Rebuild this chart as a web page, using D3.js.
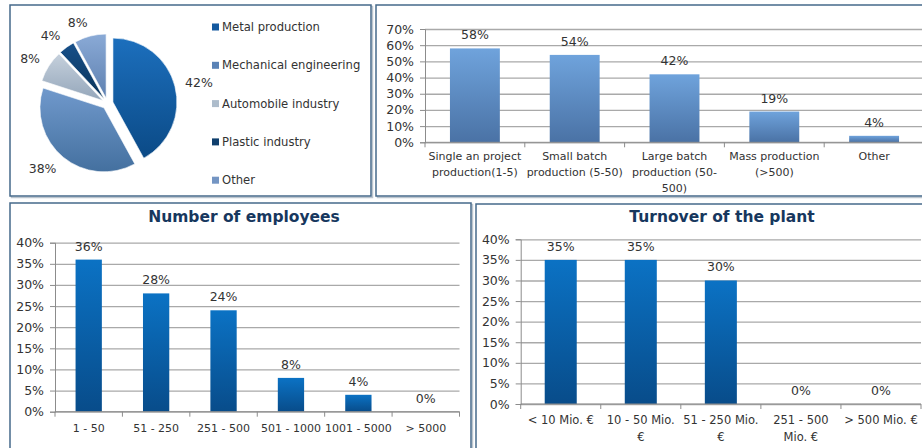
<!DOCTYPE html>
<html>
<head>
<meta charset="utf-8">
<script src="https://cdn.jsdelivr.net/npm/d3@7"></script>
<style>
  body { margin: 0; background: #fff; }
  text { font-family: "DejaVu Sans", sans-serif; fill: #333; }
</style>
</head>
<body>
<svg id="chart" width="922" height="448"></svg>
<script>
// ---- data ----
const sectorNames = ["Metal production", "Mechanical engineering", "Automobile industry", "Plastic industry", "Other"];
const sectorValues = [42, 38, 8, 4, 8];

const prodCategories = ["Single an project\nproduction(1-5)", "Small batch\nproduction (5-50)", "Large batch\nproduction (50-\n500)", "Mass production\n(>500)", "Other"];
const prodValues = [58, 54, 42, 19, 4];
const prodTicks = [0, 10, 20, 30, 40, 50, 60, 70];

const empCategories = ["1 - 50", "51 - 250", "251 - 500", "501 - 1000", "1001 - 5000", "> 5000"];
const empValues = [36, 28, 24, 8, 4, 0];
const empTicks = [0, 5, 10, 15, 20, 25, 30, 35, 40];

const turnCategories = ["< 10 Mio. €", "10 - 50 Mio.\n€", "51 - 250 Mio.\n€", "251 - 500\nMio. €", "> 500 Mio. €"];
const turnValues = [35, 35, 30, 0, 0];
const turnTicks = [0, 5, 10, 15, 20, 25, 30, 35, 40];

const svg = d3.select("#chart");
const defs = svg.append("defs");

function vGrad(id, top, bottom) {
    const g = defs.append("linearGradient").attr("id", id)
        .attr("x1", 0).attr("y1", 0).attr("x2", 0).attr("y2", 1);
    g.append("stop").attr("offset", "0%").attr("stop-color", top);
    g.append("stop").attr("offset", "100%").attr("stop-color", bottom);
}

// panel frames
function frame(x, y, w, h) {
    svg.append("rect").attr("x", x + 1.5).attr("y", y + 1.5).attr("width", w).attr("height", h)
        .attr("fill", "none").attr("stroke", "#bcc5ce").attr("stroke-width", 1.5);
    svg.append("rect").attr("x", x).attr("y", y).attr("width", w).attr("height", h)
        .attr("fill", "#fff").attr("stroke", "#46698a").attr("stroke-width", 1.5);
}
frame(10, 5, 361, 191);
frame(376, 5, 560, 191);
frame(10, 203, 461, 260);
frame(476, 204, 460, 260);

// ---- pie ----
const pieColors = [
    ["#1c6fbd", "#0b4a86", "#14599f"],
    ["#7099cc", "#44709f", "#5a83b6"],
    ["#c5d0dc", "#94a6ba", "#adbccb"],
    ["#17508a", "#0a3358", "#0f3f6d"],
    ["#8aaad6", "#5e80b0", "#7495c3"]
];
pieColors.forEach((c, i) => vGrad("pie" + i, c[0], c[1]));

const cx = 107.5, cy = 103.5, radius = 64, explode = 5.6;
const pie = d3.pie().sort(null).value(d => d);
const arc = d3.arc().innerRadius(0).outerRadius(radius);
const arcs = pie(sectorValues);

const pieG = svg.append("g").attr("transform", `translate(${cx},${cy})`);
pieG.selectAll("path")
    .data(arcs)
    .enter()
    .append("path")
    .attr("d", arc)
    .attr("transform", d => {
        const a = (d.startAngle + d.endAngle) / 2;
        return `translate(${Math.sin(a) * explode},${-Math.cos(a) * explode})`;
    })
    .attr("fill", (d, i) => `url(#pie${i})`)
    .attr("stroke", "#fff")
    .attr("stroke-width", 0.6);

pieG.selectAll(".pie-label")
    .data(arcs)
    .enter()
    .append("text")
    .attr("class", "pie-label")
    .attr("x", d => Math.sin((d.startAngle + d.endAngle) / 2) * 80)
    .attr("y", d => {
        const a = (d.startAngle + d.endAngle) / 2;
        return -Math.cos(a) * 80 - Math.cos(a) * 4;
    })
    .attr("dy", "0.35em")
    .attr("text-anchor", d => Math.sin((d.startAngle + d.endAngle) / 2) >= 0 ? "start" : "end")
    .style("font-size", "12.5px")
    .text(d => d.value + "%");

// legend
const legend = svg.append("g").attr("transform", "translate(212, 27)");
sectorNames.forEach((name, i) => {
    legend.append("rect")
        .attr("x", 0).attr("y", i * 38.3 - 3.5)
        .attr("width", 7).attr("height", 7)
        .attr("fill", pieColors[i][2]);
    legend.append("text")
        .attr("x", 10).attr("y", i * 38.3)
        .attr("dy", "0.35em")
        .style("font-size", "11.6px")
        .text(name);
});

// ---- bar panels ----
vGrad("barLight", "#6fa3dc", "#4a72a5");
vGrad("barDark", "#0b72c4", "#084c8a");

function barPanel(o) {
    const g = svg.append("g");

    const x = d3.scaleBand()
        .domain(o.cats)
        .range([o.left, o.right])
        .paddingInner(1 - o.barFrac)
        .paddingOuter((1 - o.barFrac) / 2);

    const y = d3.scaleLinear()
        .domain([0, d3.max(o.ticks)])
        .range([o.y0, o.yMax]);

    // gridlines
    g.append("g")
        .attr("transform", `translate(${o.left},0)`)
        .call(d3.axisLeft(y).tickValues(o.ticks).tickSize(-(o.right - o.left)).tickFormat(""))
        .call(s => s.select(".domain").remove())
        .call(s => s.selectAll("line").attr("stroke", "#a9a9a9").attr("stroke-width", 1.3));

    // y axis
    g.append("g")
        .attr("transform", `translate(${o.left},0)`)
        .call(d3.axisLeft(y).tickValues(o.ticks).tickSize(5).tickPadding(6).tickFormat(d => d + "%"))
        .call(s => s.select(".domain").attr("stroke", "#8c8c8c"))
        .call(s => s.selectAll("line").attr("stroke", "#8c8c8c"))
        .call(s => s.selectAll("text").style("font-size", o.tickFont).style("font-family", "DejaVu Sans").attr("fill", "#333"));

    // bars
    g.selectAll(".bar")
        .data(o.vals)
        .enter()
        .append("rect")
        .attr("x", (d, i) => x(o.cats[i]))
        .attr("y", d => y(d))
        .attr("width", x.bandwidth())
        .attr("height", d => y(0) - y(d))
        .attr("fill", o.fill);

    // value labels
    g.selectAll(".val")
        .data(o.vals)
        .enter()
        .append("text")
        .attr("x", (d, i) => x(o.cats[i]) + x.bandwidth() / 2)
        .attr("y", d => y(d) - 9)
        .attr("text-anchor", "middle")
        .style("font-size", o.tickFont)
        .text(d => d + "%");

    // x axis line + boundary ticks
    const step = x.step();
    g.append("line")
        .attr("x1", o.left).attr("x2", o.right)
        .attr("y1", y(0)).attr("y2", y(0))
        .attr("stroke", "#8c8c8c");
    g.selectAll(".xtick")
        .data(d3.range(o.cats.length + 1))
        .enter()
        .append("line")
        .attr("x1", i => o.left + i * step).attr("x2", i => o.left + i * step)
        .attr("y1", y(0)).attr("y2", y(0) + 5)
        .attr("stroke", "#8c8c8c");

    // category labels
    o.cats.forEach(c => {
        const t = g.append("text")
            .attr("text-anchor", "middle")
            .style("font-size", o.catFont);
        c.split("\n").forEach((line, j) => {
            t.append("tspan")
                .attr("x", x(c) + x.bandwidth() / 2)
                .attr("y", o.catY + j * o.lineH)
                .attr("dy", "0.35em")
                .text(line);
        });
    });

    if (o.title) {
        svg.append("text")
            .attr("x", o.titleX).attr("y", o.titleY)
            .attr("dy", "0.35em")
            .attr("text-anchor", "middle")
            .style("font-size", "15.5px")
            .style("font-weight", "bold")
            .style("fill", "#17375e")
            .text(o.title);
    }
}

barPanel({
    cats: prodCategories, vals: prodValues, ticks: prodTicks,
    left: 425, right: 924, y0: 142.3, yMax: 29,
    barFrac: 0.5, fill: "url(#barLight)",
    tickFont: "12.5px", catFont: "11px", catY: 156, lineH: 16
});

barPanel({
    cats: empCategories, vals: empValues, ticks: empTicks,
    left: 55, right: 459.5, y0: 411.7, yMax: 242.7,
    barFrac: 0.39, fill: "url(#barDark)",
    tickFont: "12.5px", catFont: "11px", catY: 428, lineH: 16,
    title: "Number of employees", titleX: 244, titleY: 217
});

barPanel({
    cats: turnCategories, vals: turnValues, ticks: turnTicks,
    left: 520.7, right: 921, y0: 404, yMax: 239.3,
    barFrac: 0.4, fill: "url(#barDark)",
    tickFont: "12.5px", catFont: "11.5px", catY: 420, lineH: 16.7,
    title: "Turnover of the plant", titleX: 722, titleY: 216.5
});
</script>
</body>
</html>
